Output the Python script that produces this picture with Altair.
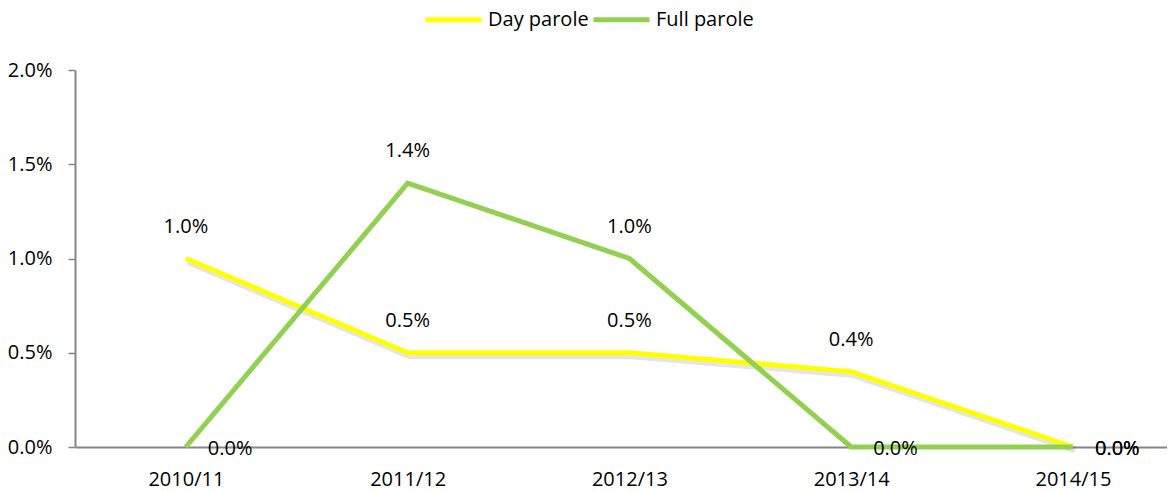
import altair as alt
import pandas as pd

years = ["2010/11", "2011/12", "2012/13", "2013/14", "2014/15"]
day_parole = [0.010, 0.005, 0.005, 0.004, 0.0]
full_parole = [0.0, 0.014, 0.010, 0.0, 0.0]
series = ["Day parole", "Full parole"]
colors = ["#FFFF00", "#92D050"]
y_ticks = [0.0, 0.005, 0.01, 0.015, 0.02]

rows = []
for s, vals in zip(series, [day_parole, full_parole]):
    for i, (yr, v) in enumerate(zip(years, vals)):
        rows.append({"year": yr, "value": v, "series": s, "order": i})
df = pd.DataFrame(rows)

FONT = "Open Sans"
FS = 20

x_enc = alt.X(
    "year:O",
    sort=years,
    scale=alt.Scale(type="point", padding=0.462, align=0.541),
    axis=alt.Axis(
        title=None, labelAngle=0, ticks=False, labelPadding=22,
        domainColor="#868686", domainWidth=2,
        labelFont=FONT, labelFontSize=FS, labelColor="black",
    ),
)
y_enc = alt.Y(
    "value:Q",
    scale=alt.Scale(domain=[0, 0.02], nice=False),
    axis=alt.Axis(
        title=None, format=".1%", values=y_ticks, grid=False,
        tickSize=7, tickColor="#868686", tickWidth=1.5,
        domainColor="#868686", domainWidth=2, labelPadding=16,
        labelFont=FONT, labelFontSize=FS, labelColor="black",
    ),
)

base = alt.Chart(df)

shadow = alt.Chart(df[df.series == "Day parole"]).mark_line(
    strokeWidth=7, color="#000000", opacity=0.1, xOffset=2, yOffset=3
).encode(x=x_enc, y=y_enc)

lines = base.mark_line(strokeWidth=5).encode(
    x=x_enc,
    y=y_enc,
    order="order:Q",
    color=alt.Color(
        "series:N",
        scale=alt.Scale(domain=series, range=colors),
        legend=alt.Legend(
            title=None, orient="none", direction="horizontal",
            legendX=348, legendY=-81, symbolType="stroke",
            symbolSize=3136, symbolStrokeWidth=5, labelOffset=4,
            columnPadding=-6, padding=0,
            labelFont=FONT, labelFontSize=FS, labelColor="black",
        ),
    ),
)

above = base.transform_filter("datum.value > 0").mark_text(
    dy=-32, baseline="middle", align="center", font=FONT, fontSize=FS, color="black"
).encode(x=x_enc, y=y_enc, text=alt.Text("value:Q", format=".1%"))

zeros = base.transform_filter("datum.value == 0").mark_text(
    dx=22, dy=2, baseline="middle", align="left", font=FONT, fontSize=FS, color="black"
).encode(x=x_enc, y=y_enc, text=alt.Text("value:Q", format=".1%"))

chart = (
    alt.layer(shadow, lines, above, zeros)
    .properties(
        width=1092, height=377,
        autosize=alt.AutoSizeParams(type="none"),
        padding={"left": 67, "top": 62, "right": 0, "bottom": 46},
    )
    .configure_view(stroke=None)
)

chart.save("out.html", embed_options={"renderer": "svg", "actions": False})
